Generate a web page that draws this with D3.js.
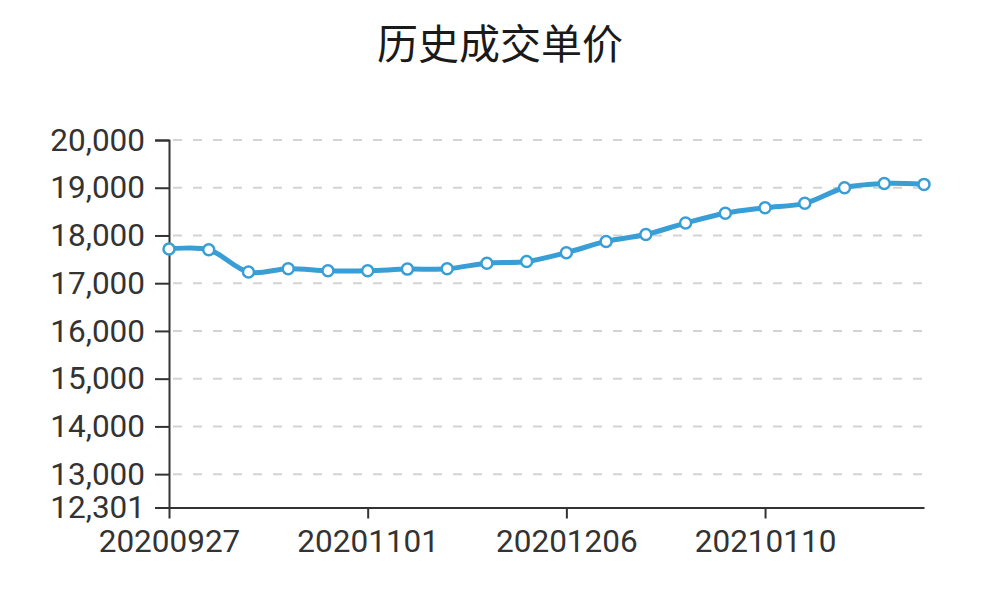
<!DOCTYPE html>
<html>
<head>
<meta charset="utf-8">
<script src="https://cdn.jsdelivr.net/npm/d3@7"></script>
<style>
  html, body { margin: 0; padding: 0; background: #fff; }
  svg { display: block; }
</style>
</head>
<body>
<svg id="chart" width="1000" height="604"></svg>
<script>
const title = "历史成交单价";
const dates = ["20200927","20201004","20201011","20201018","20201025","20201101","20201108","20201115","20201122","20201129","20201206","20201213","20201220","20201227","20210103","20210110","20210117","20210124","20210131","20210207"];
const prices = [17715, 17700, 17233, 17302, 17260, 17260, 17295, 17302, 17420, 17455, 17640, 17875, 18020, 18260, 18465, 18580, 18673, 19000, 19090, 19070];
const yTicks = [12301, 13000, 14000, 15000, 16000, 17000, 18000, 19000, 20000];
const xTickLabels = ["20200927", "20201101", "20201206", "20210110"];

(function () {
const svg = d3.select("#chart");
const pLeft = 169, pRight = 924, pTop = 140, pBottom = 507.5;

const x = d3.scalePoint().domain(dates).range([pLeft, pRight]);
const y = d3.scaleLinear().domain([12301, 20000]).range([pBottom, pTop]);

// title
svg.append("text")
  .attr("x", 500).attr("y", 48)
  .attr("text-anchor", "middle").attr("dominant-baseline", "middle")
  .style("font-family", "'Noto Sans CJK SC', sans-serif")
  .style("font-size", "41px").style("fill", "#1a1a1a")
  .text(title);

// grid
svg.append("g").selectAll("line")
  .data(yTicks.filter(d => d !== 12301))
  .join("line")
  .attr("x1", pLeft).attr("x2", pRight)
  .attr("y1", d => y(d)).attr("y2", d => y(d))
  .attr("stroke", "#d3d3d3").attr("stroke-width", 2)
  .attr("stroke-dasharray", "9,11")
  .attr("stroke-dashoffset", -4);

// y axis
const yAxis = svg.append("g")
  .attr("transform", `translate(${pLeft},0)`)
  .call(d3.axisLeft(y).tickValues(yTicks).tickFormat(d3.format(",")).tickSize(14).tickPadding(10));
yAxis.select(".domain").attr("stroke", "#333").attr("stroke-width", 2);
yAxis.selectAll(".tick line").attr("stroke", "#333").attr("stroke-width", 2);
yAxis.selectAll("text")
  .style("font-family", "Roboto, sans-serif").style("font-size", "31.5px").style("fill", "#333");

// x axis
const xAxis = svg.append("g")
  .attr("transform", `translate(0,${pBottom})`)
  .call(d3.axisBottom(x).tickValues(xTickLabels).tickSize(11).tickPadding(11).tickSizeOuter(0));
xAxis.select(".domain").attr("stroke", "#333").attr("stroke-width", 2);
xAxis.selectAll(".tick line").attr("stroke", "#333").attr("stroke-width", 2);
xAxis.selectAll("text")
  .style("font-family", "Roboto, sans-serif").style("font-size", "31.5px").style("fill", "#333");

// line
const line = d3.line()
  .x((d, i) => x(dates[i]))
  .y(d => y(d))
  .curve(d3.curveCatmullRom.alpha(0.5));
svg.append("path")
  .datum(prices)
  .attr("d", line)
  .attr("fill", "none")
  .attr("stroke", "#3a9ed6")
  .attr("stroke-width", 5)
  .attr("stroke-linejoin", "round");

// points
svg.append("g").selectAll("circle")
  .data(prices)
  .join("circle")
  .attr("cx", (d, i) => x(dates[i]))
  .attr("cy", d => y(d))
  .attr("r", 5.5)
  .attr("fill", "#fff")
  .attr("stroke", "#3a9ed6")
  .attr("stroke-width", 2.5);
})();
</script>
</body>
</html>
